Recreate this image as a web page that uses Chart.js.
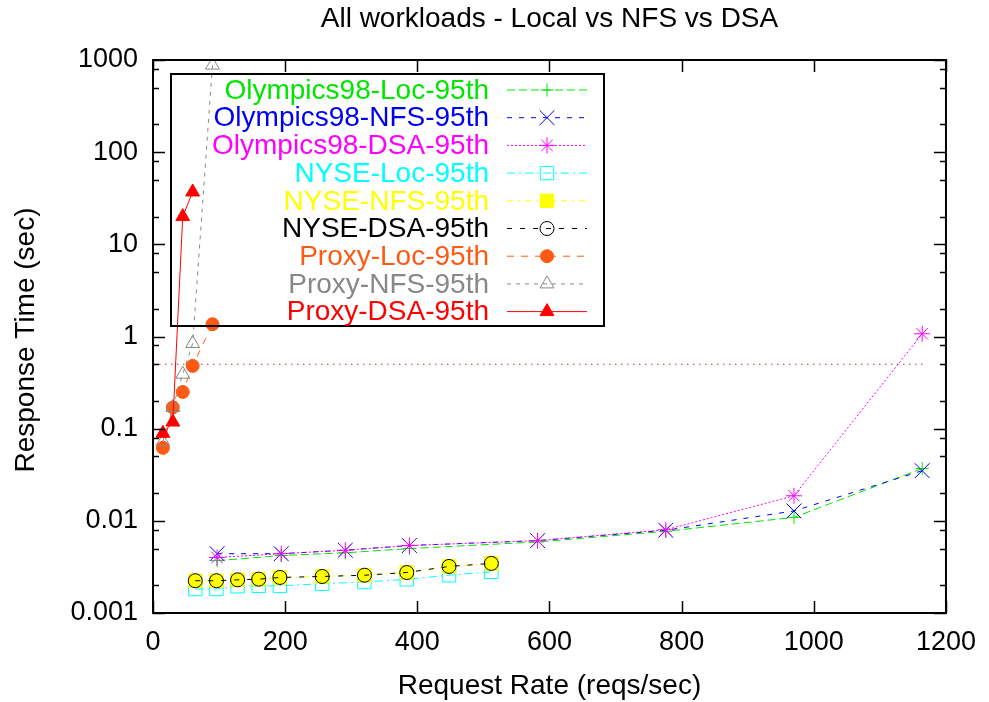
<!DOCTYPE html>
<html>
<head>
<meta charset="utf-8">
<script src="https://cdn.jsdelivr.net/npm/chart.js@4.4.0/dist/chart.umd.min.js"></script>
<style>
  html, body { margin: 0; padding: 0; background: #fff; }
  canvas { display: block; }
</style>
</head>
<body>
<canvas id="chart" width="989" height="702"></canvas>
<script>
// request rates (reqs/sec) per workload
const olympicsRates = [97, 194, 291, 388, 582, 776, 970, 1164];
const nyseRates = [64, 96, 128, 160, 192, 256, 320, 384, 448, 512];
const proxyRates = [15, 30, 45, 60, 90];
const proxyDsaRates = [15, 30, 45, 60];

// 95th percentile response times (sec)
const olympicsLoc = [0.0037, 0.0042, 0.0045, 0.0050, 0.0059, 0.0077, 0.0109, 0.037];
const olympicsNfs = [0.0044, 0.0044, 0.0048, 0.0054, 0.0061, 0.0079, 0.0128, 0.035];
const olympicsDsa = [0.0040, 0.0044, 0.0048, 0.0054, 0.0061, 0.0080, 0.0187, 1.07];
const nyseLoc = [0.00182, 0.00182, 0.00195, 0.00197, 0.00197, 0.00208, 0.00217, 0.00232, 0.00257, 0.00280];
const nyseNfs = [0.00224, 0.00224, 0.00229, 0.00233, 0.00243, 0.00249, 0.00257, 0.00275, 0.00320, 0.00345];
const nyseDsa = [0.00224, 0.00224, 0.00229, 0.00233, 0.00243, 0.00249, 0.00257, 0.00275, 0.00320, 0.00345];
const proxyLoc = [0.062, 0.17, 0.25, 0.48, 1.36];
const proxyNfs = [0.072, 0.17, 0.39, 0.84, 880];
const proxyDsa = [0.089, 0.118, 20, 37];

// 0.5 sec reference line
const limitRates = [0, 1165];
const limitTimes = [0.5, 0.5];

// axis ticks
const xTicks = [0, 200, 400, 600, 800, 1000, 1200];
const yTicks = [0.001, 0.01, 0.1, 1, 10, 100, 1000];

const FONT = '"Liberation Sans", Arial, Helvetica, sans-serif';

const pairs = (xs, ys) => xs.map((x, i) => ({ x, y: ys[i] }));

const series = [
    { label: `Olympics98-Loc-95th`, xs: olympicsRates, ys: olympicsLoc, color: `#00e600`, dash: [8, 4], style: `cross`, radius: 6.5, filled: false },
    { label: `Olympics98-NFS-95th`, xs: olympicsRates, ys: olympicsNfs, color: `#0000f0`, dash: [5, 7], style: `crossRot`, radius: 10.5, filled: false },
    { label: `Olympics98-DSA-95th`, xs: olympicsRates, ys: olympicsDsa, color: `#ff00ff`, dash: [2, 2], style: `star`, radius: 8, filled: false },
    { label: `NYSE-Loc-95th`, xs: nyseRates, ys: nyseLoc, color: `#00ffff`, dash: [8, 4, 2, 4], style: `rect`, radius: 9.5, filled: false },
    { label: `NYSE-NFS-95th`, xs: nyseRates, ys: nyseNfs, color: `#ffff00`, dash: [6, 5, 2, 5], style: `rect`, radius: 9.5, filled: true },
    { label: `NYSE-DSA-95th`, xs: nyseRates, ys: nyseDsa, color: `#000000`, dash: [5, 8], style: `circle`, radius: 7, filled: false },
    { label: `Proxy-Loc-95th`, xs: proxyRates, ys: proxyLoc, color: `#ff5a14`, dash: [7, 7], style: `circle`, radius: 6.5, filled: true },
    { label: `Proxy-NFS-95th`, xs: proxyRates, ys: proxyNfs, color: `#888888`, dash: [4, 5], style: `triangle`, radius: 8, filled: false },
    { label: `Proxy-DSA-95th`, xs: proxyDsaRates, ys: proxyDsa, color: `#ff0000`, dash: [], style: `triangle`, radius: 8, filled: true },
];

const datasets = series.map((s, i) => ({
    label: s.label,
    data: pairs(s.xs, s.ys),
    borderColor: s.color,
    backgroundColor: s.filled ? s.color : `rgba(0,0,0,0)`,
    borderWidth: 1,
    borderDash: s.dash,
    pointStyle: s.style,
    pointRadius: s.radius,
    pointBorderWidth: 1,
    pointBorderColor: s.color,
    pointBackgroundColor: s.filled ? s.color : `rgba(0,0,0,0)`,
    order: series.length - i,
    showLine: true,
    inLegend: true,
}));

datasets.push({
    label: `limit`,
    data: pairs(limitRates, limitTimes),
    borderColor: `#c83030`,
    borderWidth: 1,
    borderDash: [1.5, 4.5],
    pointRadius: 0,
    order: 99,
    inLegend: false,
});

// gnuplot-like border, inward ticks, key box and titles
const gnuplotLook = {
    id: `gnuplotLook`,
    afterDatasetsDraw(chart) {
        const { ctx, chartArea: a, scales: { x, y } } = chart;
        ctx.save();
        ctx.setLineDash([]);
        ctx.strokeStyle = `#000`;

        ctx.lineWidth = 1.5;
        ctx.beginPath();
        xTicks.forEach(v => {
            const px = Math.round(x.getPixelForValue(v)) + 0.5;
            ctx.moveTo(px, a.bottom); ctx.lineTo(px, a.bottom - 12);
            ctx.moveTo(px, a.top); ctx.lineTo(px, a.top + 12);
        });
        yTicks.forEach((v, i) => {
            const py = Math.round(y.getPixelForValue(v)) + 0.5;
            ctx.moveTo(a.left, py); ctx.lineTo(a.left + 12, py);
            ctx.moveTo(a.right, py); ctx.lineTo(a.right - 12, py);
            if (i < yTicks.length - 1) {
                [2, 5, 8].forEach(m => {
                    const pm = Math.round(y.getPixelForValue(v * m)) + 0.5;
                    ctx.moveTo(a.left, pm); ctx.lineTo(a.left + 6, pm);
                    ctx.moveTo(a.right, pm); ctx.lineTo(a.right - 6, pm);
                });
            }
        });
        ctx.stroke();

        ctx.lineWidth = 2;
        ctx.strokeRect(a.left, a.top, a.right - a.left, a.bottom - a.top);

        // key
        ctx.lineWidth = 2;
        ctx.strokeRect(171, 74, 433, 252);
        ctx.font = `28px ${FONT}`;
        ctx.textAlign = `right`;
        ctx.textBaseline = `middle`;
        chart.data.datasets.filter(ds => ds.inLegend).forEach((ds, i) => {
            const ky = 90 + i * 27.7;
            ctx.fillStyle = ds.borderColor;
            ctx.fillText(ds.label, 489, ky + 1);
            ctx.strokeStyle = ds.borderColor;
            ctx.lineWidth = 1;
            ctx.setLineDash(ds.borderDash);
            ctx.beginPath();
            ctx.moveTo(507, ky); ctx.lineTo(587, ky);
            ctx.stroke();
            ctx.setLineDash([]);
            ctx.fillStyle = ds.pointBackgroundColor;
            Chart.helpers.drawPoint(ctx, {
                pointStyle: ds.pointStyle, radius: ds.pointRadius, rotation: 0, borderWidth: 1,
            }, 547, ky);
        });
        ctx.restore();
    },
    afterDraw(chart) {
        const { ctx, chartArea: a } = chart;
        const cx = (a.left + a.right) / 2;
        ctx.save();
        ctx.fillStyle = `#000`;
        ctx.font = `28px ${FONT}`;
        ctx.textAlign = `center`;
        ctx.textBaseline = `middle`;
        ctx.fillText(`All workloads - Local vs NFS vs DSA`, cx, 19);
        ctx.fillText(`Request Rate (reqs/sec)`, cx, 686);
        ctx.translate(26, 340);
        ctx.rotate(-Math.PI / 2);
        ctx.fillText(`Response Time (sec)`, 0, 0);
        ctx.restore();
    },
};

Chart.defaults.font.family = FONT;
Chart.defaults.font.size = 27;
Chart.defaults.color = `#000`;

const chart = new Chart(document.getElementById(`chart`), {
    type: `line`,
    data: { datasets },
    options: {
        responsive: false,
        devicePixelRatio: 1,
        animation: false,
        layout: { padding: { top: 60, right: 33, left: 0, bottom: 0 } },
        plugins: { legend: { display: false }, tooltip: { enabled: false }, title: { display: false } },
        scales: {
            x: {
                type: `linear`,
                min: 0,
                max: 1200,
                grid: { display: false, drawTicks: false },
                border: { display: false },
                ticks: { stepSize: 200, padding: 13, maxRotation: 0, callback: v => String(v) },
                afterFit: scale => { scale.height = 89; },
            },
            y: {
                type: `logarithmic`,
                min: 0.001,
                max: 1000,
                grid: { display: false, drawTicks: false },
                border: { display: false },
                ticks: { padding: 15, callback: v => String(v) },
                afterBuildTicks: scale => { scale.ticks = yTicks.map(value => ({ value })); },
                afterFit: scale => { scale.width = 153; },
            },
        },
    },
    plugins: [gnuplotLook],
});
</script>
</body>
</html>
